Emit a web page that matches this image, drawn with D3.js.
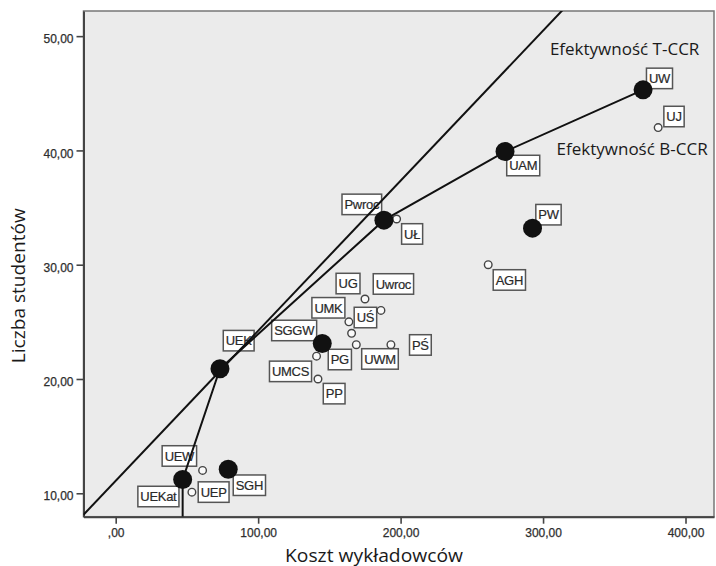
<!DOCTYPE html>
<html>
<head>
<meta charset="utf-8">
<script src="https://cdn.jsdelivr.net/npm/d3@7"></script>
<style>
  body { margin: 0; background: #fff; }
  svg { display: block; }
</style>
</head>
<body>
<div id="chart"></div>
<script>
// Uczelnie: koszt wykładowców vs liczba studentów (DEA, T-CCR / B-CCR)
var uczelnie = ['UW', 'UJ', 'UAM', 'Pwroc', 'UŁ', 'PW', 'AGH', 'UG', 'Uwroc', 'UMK', 'UŚ', 'UWM', 'PŚ', 'SGGW', 'PG', 'UMCS', 'PP', 'UEK', 'UEW', 'UEKat', 'UEP', 'SGH'];
var koszt = [370.2, 380.8, 273.3, 188.3, 197.2, 292.6, 261.5, 175.0, 186.2, 163.7, 165.6, 168.9, 193.2, 144.5, 145.0, 141.0, 142.0, 73.2, 61.0, 47.0, 53.5, 79.0];
var studenci = [45.3, 42.0, 39.9, 33.9, 34.0, 33.2, 30.0, 27.0, 26.0, 25.0, 24.0, 23.0, 23.0, 23.2, 23.1, 22.0, 20.0, 20.9, 12.0, 11.2, 10.1, 12.1];
var duzy = [1, 0, 1, 1, 0, 1, 0, 0, 0, 0, 0, 0, 0, 0, 1, 0, 0, 1, 0, 1, 0, 1];
var frontBCCR = ['UEKat', 'UEK', 'Pwroc', 'UAM', 'UW'];
var tccrWyraz = 11.09;
var tccrNachylenie = 0.1313;
var xTicks = [0, 100, 200, 300, 400];
var yTicks = [10, 20, 30, 40, 50];
var xDomain = [-22.6, 420];
var yDomain = [7.95, 52.2];
var adnotacje = ['Efektywność T-CCR', 'Efektywność B-CCR'];
var adnotacjeX = [304.8, 309.5];
var adnotacjeY = [48.38, 39.56];

(function () {
  var width = 716;
  var height = 566;
  var margin = { top: 11, right: 2, bottom: 49.3, left: 83.5 };
  var plotBg = '#ebebeb';
  var labelFont = '"Liberation Sans", Arial, sans-serif';
  var titleFont = '"Open Sans", "Noto Sans", sans-serif';

  // where each label box sits relative to its point: [edge, dx, dy of box top]
  var placement = {
    'UW': ['l', 3.4, -21.7], 'UJ': ['l', 5.7, -21.3], 'UAM': ['l', 1.7, 3.7],
    'Pwroc': ['r', -2.3, -26], 'UŁ': ['l', 5, 4.7], 'PW': ['l', 3.3, -23.7],
    'AGH': ['l', 5, 5], 'UG': ['r', -5, -25.7], 'Uwroc': ['l', -7.7, -36.7],
    'UMK': ['r', -4, -24.3], 'UŚ': ['l', 2.6, -26], 'UWM': ['l', 5.4, 4],
    'PŚ': ['l', 18.6, -10], 'SGGW': ['r', -4.9, -22.2], 'PG': ['l', 6, 5.7],
    'UMCS': ['r', -5, 5], 'PP': ['l', 5.3, 4.4], 'UEK': ['l', 3.3, -38.3],
    'UEW': ['r', -6, -24.7], 'UEKat': ['r', -3.7, 6.7], 'UEP': ['l', 6.3, -10.3],
    'SGH': ['l', 5, 5.7]
  };

  var data = uczelnie.map(function (d, i) {
    return { name: d, x: koszt[i], y: studenci[i], big: duzy[i] === 1 };
  });
  var byName = {};
  data.forEach(function (d) { byName[d.name] = d; });

  var x = d3.scaleLinear().domain(xDomain).range([margin.left, width - margin.right]);
  var y = d3.scaleLinear().domain(yDomain).range([height - margin.bottom, margin.top]);

  var fmt = function (v) {
    return d3.format('.2f')(v).replace('.', ',').replace(/^0,/, ',');
  };

  var svg = d3.select('#chart').append('svg')
    .attr('width', width)
    .attr('height', height);

  svg.append('defs').append('clipPath')
    .attr('id', 'plot-clip')
    .append('rect')
    .attr('x', x.range()[0])
    .attr('y', y.range()[1])
    .attr('width', x.range()[1] - x.range()[0])
    .attr('height', y.range()[0] - y.range()[1]);

  // plot area
  svg.append('rect')
    .attr('x', x.range()[0])
    .attr('y', y.range()[1])
    .attr('width', x.range()[1] - x.range()[0])
    .attr('height', y.range()[0] - y.range()[1])
    .style('fill', plotBg)
    .style('stroke', '#777')
    .style('stroke-width', 1.5);

  // axes
  var xAxis = svg.append('g')
    .attr('transform', 'translate(0,' + y.range()[0] + ')')
    .call(d3.axisBottom(x).tickValues(xTicks).tickFormat(fmt).tickSize(7).tickSizeOuter(0).tickPadding(5));
  var yAxis = svg.append('g')
    .attr('transform', 'translate(' + x.range()[0] + ',0)')
    .call(d3.axisLeft(y).tickValues(yTicks).tickFormat(fmt).tickSize(7).tickSizeOuter(0).tickPadding(3));

  [xAxis, yAxis].forEach(function (g) {
    g.select('.domain').style('stroke', '#444').style('stroke-width', 2);
    g.selectAll('.tick line').style('stroke', '#444').style('stroke-width', 1.6);
    g.selectAll('.tick text')
      .style('font-family', labelFont)
      .style('font-size', '12px')
      .style('fill', '#2e2e2e')
      .style('stroke', '#2e2e2e')
      .style('stroke-width', 0.25);
  });
  yAxis.selectAll('.tick text').attr('dy', '0.55em');

  // axis titles
  svg.append('text')
    .attr('x', 374)
    .attr('y', 561.7)
    .attr('text-anchor', 'middle')
    .attr('textLength', 178)
    .attr('lengthAdjust', 'spacingAndGlyphs')
    .style('font-family', titleFont)
    .style('font-size', '18px')
    .style('fill', '#1a1a1a')
    .text('Koszt wykładowców');

  svg.append('text')
    .attr('transform', 'translate(25,285.7) rotate(-90)')
    .attr('text-anchor', 'middle')
    .attr('textLength', 155)
    .attr('lengthAdjust', 'spacingAndGlyphs')
    .style('font-family', titleFont)
    .style('font-size', '18px')
    .style('fill', '#1a1a1a')
    .text('Liczba studentów');

  // label boxes
  var labels = svg.append('g').attr('class', 'labels');
  data.forEach(function (d) {
    var p = placement[d.name];
    var g = labels.append('g');
    var box = g.append('rect');
    var t = g.append('text')
      .style('font-family', labelFont)
      .style('font-size', '13px')
      .style('letter-spacing', '-0.3px')
      .style('fill', '#2a2a2a')
      .style('stroke', '#2a2a2a')
      .style('stroke-width', 0.2)
      .text(d.name);
    var w = t.node().getComputedTextLength() + 5;
    var left = p[0] === 'l' ? x(d.x) + p[1] : x(d.x) + p[1] - w;
    var top = y(d.y) + p[2];
    box.attr('x', left)
      .attr('y', top)
      .attr('width', w)
      .attr('height', 20.5)
      .style('fill', '#fff')
      .style('stroke', '#555')
      .style('stroke-width', 1.5);
    t.attr('x', left + 2.5).attr('y', top + 15);
  });

  // lines
  var lines = svg.append('g').attr('clip-path', 'url(#plot-clip)');
  var line = d3.line()
    .x(function (d) { return x(d.x); })
    .y(function (d) { return y(d.y); });

  var tccr = xDomain.map(function (v) {
    return { x: v, y: tccrWyraz + tccrNachylenie * v };
  });
  lines.append('path')
    .datum(tccr)
    .attr('d', line)
    .style('fill', 'none')
    .style('stroke', '#111')
    .style('stroke-width', 2);

  var bccr = [{ x: byName[frontBCCR[0]].x, y: yDomain[0] }].concat(frontBCCR.map(function (n) { return byName[n]; }));
  lines.append('path')
    .datum(bccr)
    .attr('d', line)
    .style('fill', 'none')
    .style('stroke', '#111')
    .style('stroke-width', 2);

  // points
  var pts = svg.append('g').attr('class', 'points');
  pts.selectAll('circle.small')
    .data(data.filter(function (d) { return !d.big; }))
    .enter()
    .append('circle')
    .attr('class', 'small')
    .attr('cx', function (d) { return x(d.x); })
    .attr('cy', function (d) { return y(d.y); })
    .attr('r', 3.8)
    .style('fill', '#fafafa')
    .style('stroke', '#444')
    .style('stroke-width', 1.4);
  pts.selectAll('circle.big')
    .data(data.filter(function (d) { return d.big; }))
    .enter()
    .append('circle')
    .attr('class', 'big')
    .attr('cx', function (d) { return x(d.x); })
    .attr('cy', function (d) { return y(d.y); })
    .attr('r', 9.5)
    .style('fill', '#111');

  // annotations
  adnotacje.forEach(function (a, i) {
    svg.append('text')
      .attr('x', x(adnotacjeX[i]))
      .attr('y', y(adnotacjeY[i]))
      .style('font-family', titleFont)
      .style('font-size', '17px')
      .style('fill', '#1a1a1a')
      .text(a);
  });
})();
</script>
</body>
</html>
